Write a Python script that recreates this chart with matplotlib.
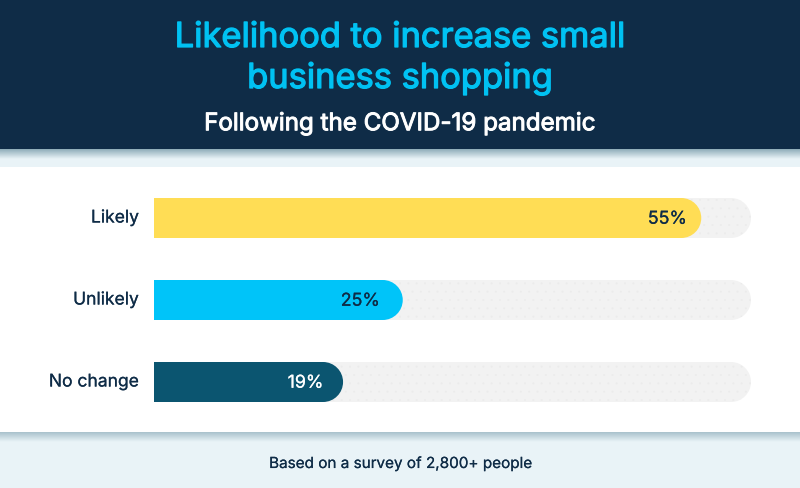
import numpy as np
import matplotlib
matplotlib.use('Agg')
import matplotlib.pyplot as plt
import matplotlib.patheffects as pe
from matplotlib.path import Path
from matplotlib.patches import PathPatch, Rectangle

W, H = 800, 488

categories = ['Likely', 'Unlikely', 'No change']
values = [55, 25, 19]
value_labels = ['55%', '25%', '19%']
bar_colors = ['#ffdd55', '#00c4f9', '#0b5570']
track_max = 60

NAVY = '#0f2c47'
CYAN = '#00c2f3'
PALE = '#e9f3f7'

plt.rcParams['font.family'] = ['Inter', 'DejaVu Sans']
plt.rcParams['hatch.linewidth'] = 0.2


def heavier(color, width):
    # Inter only comes in regular here, so thicken the glyphs with a stroke
    return [pe.withStroke(linewidth=width, foreground=color)]


def pill_path(value, y, height, rx):
    """Bar with square left end and rounded right end."""
    y0, y1 = y - height / 2, y + height / 2
    xs = value - rx
    k = 0.5523
    verts = [(0, y0), (xs, y0),
             (xs + k * rx, y0), (value, y - k * height / 2), (value, y),
             (value, y + k * height / 2), (xs + k * rx, y1), (xs, y1),
             (0, y1), (0, y0)]
    codes = [Path.MOVETO, Path.LINETO,
             Path.CURVE4, Path.CURVE4, Path.CURVE4,
             Path.CURVE4, Path.CURVE4, Path.CURVE4,
             Path.LINETO, Path.CLOSEPOLY]
    return Path(verts, codes)


def shadow(ax, top, bottom, color_from, color_to):
    grad = np.linspace(0, 1, 32).reshape(-1, 1, 1)
    c0 = np.array(matplotlib.colors.to_rgb(color_from))
    c1 = np.array(matplotlib.colors.to_rgb(color_to))
    ax.imshow(c0 + (c1 - c0) * grad, extent=(0, W, bottom, top),
              aspect='auto', interpolation='bilinear', zorder=2)


fig = plt.figure(figsize=(W / 100, H / 100), dpi=100)

# background bands, in pixel coordinates
bg = fig.add_axes([0, 0, 1, 1])
bg.set_xlim(0, W)
bg.set_ylim(H, 0)
bg.axis('off')
bg.add_patch(Rectangle((0, 0), W, 149, color=NAVY, lw=0))
bg.add_patch(Rectangle((0, 149), W, 18, color=PALE, lw=0))
bg.add_patch(Rectangle((0, 432), W, 56, color=PALE, lw=0))
shadow(bg, 149, 159, '#8fadb9', PALE)
shadow(bg, 432, 442, '#a9c2cc', PALE)
bg.set_xlim(0, W)
bg.set_ylim(H, 0)

bg.text(400, 38, 'Likelihood to increase small', color=CYAN, fontsize=24.8,
        ha='center', va='center', path_effects=heavier(CYAN, 0.9))
bg.text(400, 79, 'business shopping', color=CYAN, fontsize=24.8,
        ha='center', va='center', path_effects=heavier(CYAN, 0.9))
bg.text(400, 124, 'Following the COVID-19 pandemic', color='white', fontsize=17.4,
        ha='center', va='center', path_effects=heavier('white', 0.7))
bg.text(400, 463.5, 'Based on a survey of 2,800+ people', color=NAVY, fontsize=11,
        ha='center', va='center', path_effects=heavier(NAVY, 0.1))

# bars: 154..751 px across, one category every 82 px
ax = fig.add_axes([154 / W, 1 - 423 / H, 597 / W, 246 / H])
ax.set_xlim(0, track_max)
ax.set_ylim(2.5, -0.5)
ax.patch.set_alpha(0)
for s in ax.spines.values():
    s.set_visible(False)
ax.set_xticks([])
ax.set_yticks(range(len(categories)))
ax.set_yticklabels(categories, fontsize=12.6, color=NAVY, va='center',
                   path_effects=heavier(NAVY, 0.12))
ax.tick_params(axis='y', length=0, pad=11)

bar_h = 40 / 82
rx = 20 * track_max / 597
label_gaps = [1.45, 2.3, 2.0]
for i, (val, col, lab) in enumerate(zip(values, bar_colors, value_labels)):
    ax.add_patch(PathPatch(pill_path(track_max, i, bar_h, rx), facecolor='#f2f2f2',
                           edgecolor='#ebebeb', linewidth=0, hatch='..', zorder=1))
    ax.add_patch(PathPatch(pill_path(val, i, bar_h, rx), facecolor=col,
                           edgecolor='none', zorder=2))
    text_col = NAVY if i < 2 else 'white'
    ax.text(val - label_gaps[i], i + 0.015, lab, color=text_col, fontsize=12.8,
            ha='right', va='center', zorder=3, path_effects=heavier(text_col, 0.15))

fig.savefig('out.png', dpi=100)
